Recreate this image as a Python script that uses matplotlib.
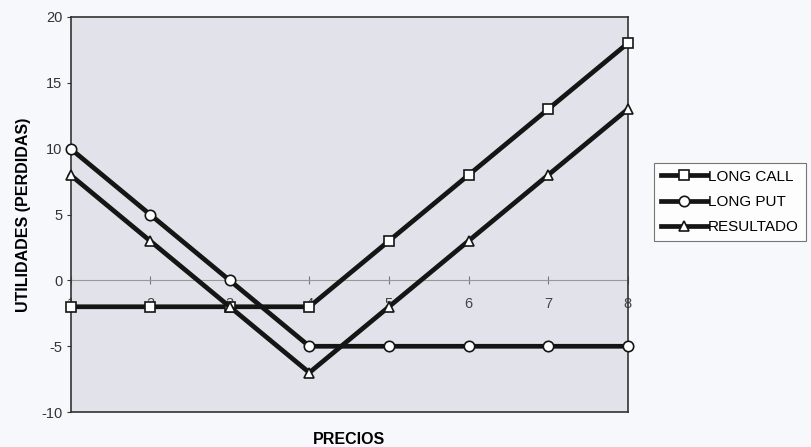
import matplotlib.pyplot as plt

plt.rcParams['font.family'] = ['Liberation Sans', 'DejaVu Sans']
plt.rcParams['axes.unicode_minus'] = False

precios = [1, 2, 3, 4, 5, 6, 7, 8]
long_call = [-2, -2, -2, -2, 3, 8, 13, 18]
long_put = [10, 5, 0, -5, -5, -5, -5, -5]
resultado = [8, 3, -2, -7, -2, 3, 8, 13]

fig = plt.figure(figsize=(8.11, 4.47), dpi=100)
fig.patch.set_facecolor('#f7f8fb')
ax = fig.add_axes([0.087, 0.078, 0.687, 0.884])
ax.set_facecolor('#e2e3ea')

# lineas
estilo = dict(color='#151515', lw=3.4, ms=7.5, mfc='white', mec='#151515',
              mew=1.2, zorder=4, clip_on=False)
ax.plot(precios, long_call, marker='s', label='LONG CALL', **estilo)
ax.plot(precios, long_put, marker='o', label='LONG PUT', **estilo)
ax.plot(precios, resultado, marker='^', label='RESULTADO', **estilo)

ax.set_xlim(1, 8)
ax.set_ylim(-10, 20)
ax.set_yticks([-10, -5, 0, 5, 10, 15, 20])
ax.tick_params(axis='y', labelsize=10.5, length=3, direction='out',
               colors='#333333', pad=3)
ax.set_xticks([])

for s in ax.spines.values():
    s.set_color('#333333')
    s.set_linewidth(1.2)

# eje x en cero
ax.axhline(0, color='#999999', lw=0.8, zorder=1)
sec = ax.secondary_xaxis(1 / 3)
sec.set_xticks(precios)
sec.spines['bottom'].set_visible(False)
sec.tick_params(axis='x', direction='inout', length=6, width=0.8, colors='#777777',
                labelsize=10.5, labelcolor='#444444', pad=9)

ax.set_ylabel('UTILIDADES (PERDIDAS)', fontsize=11.5, fontweight='bold', labelpad=7)
ax.set_xlabel('PRECIOS', fontsize=11.5, fontweight='bold', labelpad=14)

leg = ax.legend(loc='upper left', bbox_to_anchor=(0.807, 0.636),
                bbox_transform=fig.transFigure, fancybox=False, frameon=True,
                fontsize=11, handlelength=3.0, handletextpad=0.05,
                borderpad=0.45, labelspacing=0.75, borderaxespad=0)
leg.get_frame().set_edgecolor('#555555')
leg.get_frame().set_linewidth(0.8)
leg.get_frame().set_facecolor('white')

fig.savefig('out.png', dpi=100, facecolor=fig.get_facecolor())
